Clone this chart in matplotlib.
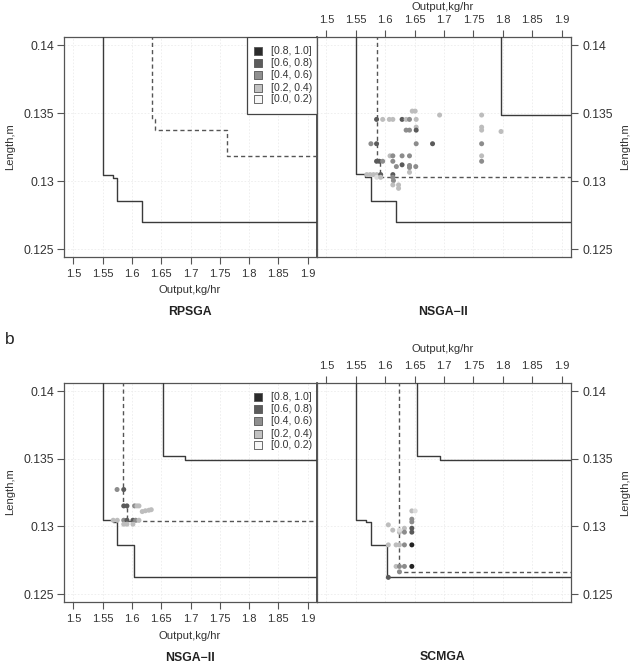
import matplotlib
matplotlib.use('Agg')
import matplotlib.pyplot as plt
from matplotlib.patches import Rectangle

plt.rcParams['font.family'] = ['Liberation Sans', 'DejaVu Sans']

W, H = 639, 663

# ---------------- data ----------------
x_ticks = [1.5, 1.55, 1.6, 1.65, 1.7, 1.75, 1.8, 1.85, 1.9]
x_tick_labels = ['1.5', '1.55', '1.6', '1.65', '1.7', '1.75', '1.8', '1.85', '1.9']
y_ticks = [0.125, 0.13, 0.135, 0.14]
y_tick_labels = ['0.125', '0.13', '0.135', '0.14']
x_lim = (1.484, 1.916)
y_lim = (0.12442, 0.1406)

legend_labels = ['[0.8, 1.0]', '[0.6, 0.8)', '[0.4, 0.6)', '[0.2, 0.4)', '[0.0, 0.2)']
legend_colors = ['#2b2b2b', '#5c5c5c', '#8f8f8f', '#c2c2c2', '#f7f7f7']
# point colour per category 0..4 (0 = lightest)
cat_colors = ['#dcdcdc', '#bdbdbd', '#8c8c8c', '#5a5a5a', '#222222']

panel_titles = ['RPSGA', 'NSGA\u2212II', 'NSGA\u2212II', 'SCMGA']

# Panel a-left (RPSGA)
a1_solid_x = [1.550, 1.568, 1.575, 1.618]
a1_solid_y = [0.13046, 0.13024, 0.12856, 0.12699]
a1_dash_x = [1.635, 1.639, 1.762]
a1_dash_y = [0.13459, 0.13373, 0.13188]

# Panel a-right (NSGA-II)
a2_solid_x = [1.550, 1.5655, 1.575, 1.618]
a2_solid_y = [0.13051, 0.13030, 0.12856, 0.12699]
a2_solid2_x = [1.797]
a2_solid2_y = [0.13484]
a2_dash_x = [1.5855, 1.592]
a2_dash_y = [0.13146, 0.13028]
a2_pts_x = [1.646, 1.651, 1.6925, 1.764,
            1.5853, 1.5957, 1.607, 1.613, 1.6287, 1.6356, 1.6413, 1.6527,
            1.6527, 1.764, 1.797,
            1.6356, 1.6413, 1.6527, 1.764,
            1.5757, 1.5853, 1.6527, 1.6805, 1.764,
            1.6082, 1.613, 1.6287, 1.6413, 1.764,
            1.5853, 1.5900, 1.5957, 1.613, 1.764,
            1.619, 1.6287, 1.6413, 1.6413, 1.652,
            1.6413,
            1.5687, 1.5743, 1.5800, 1.5857, 1.5923, 1.613,
            1.5857, 1.5923, 1.613,
            1.6140,
            1.613, 1.6227, 1.6227]
a2_pts_y = [0.13515, 0.13515, 0.13486, 0.13486,
            0.13454, 0.13454, 0.13454, 0.13454, 0.13454, 0.13454, 0.13454, 0.13454,
            0.13397, 0.13397, 0.13365,
            0.13375, 0.13375, 0.13375, 0.13375,
            0.13275, 0.13275, 0.13275, 0.13275, 0.13275,
            0.13186, 0.13186, 0.13186, 0.13186, 0.13186,
            0.13146, 0.13146, 0.13146, 0.13146, 0.13146,
            0.13107, 0.13120, 0.13115, 0.13100, 0.13107,
            0.13065,
            0.13048, 0.13048, 0.13048, 0.13048, 0.13048, 0.13048,
            0.13028, 0.13028, 0.13028,
            0.13004,
            0.12972, 0.12972, 0.12947]
a2_pts_c = [1, 1, 1, 1,
            3, 1, 1, 1, 3, 1, 2, 1,
            1, 1, 1,
            2, 2, 3, 1,
            2, 3, 2, 3, 2,
            1, 2, 2, 2, 1,
            3, 3, 2, 2, 2,
            2, 3, 2, 2, 2,
            1,
            1, 1, 1, 1, 3, 3,
            0, 1, 2,
            2,
            1, 1, 1]

# Panel b-left (NSGA-II)
b1_solid_x = [1.550, 1.568, 1.575, 1.6034]
b1_solid_y = [0.13049, 0.13030, 0.12862, 0.12624]
b1_solid2_x = [1.6525, 1.6905]
b1_solid2_y = [0.13521, 0.13491]
b1_dash_x = [1.5847, 1.591]
b1_dash_y = [0.13152, 0.13037]
b1_pts_x = [1.5746, 1.586,
            1.586, 1.5915, 1.6045, 1.6085, 1.612,
            1.6176, 1.623, 1.629, 1.633,
            1.568, 1.575, 1.586, 1.5915, 1.6017, 1.6063, 1.612,
            1.586, 1.5915, 1.6017]
b1_pts_y = [0.13273, 0.13273,
            0.13152, 0.13152, 0.13152, 0.13152, 0.13152,
            0.13110, 0.13116, 0.13120, 0.13124,
            0.13046, 0.13046, 0.13046, 0.13046, 0.13046, 0.13046, 0.13046,
            0.13017, 0.13017, 0.13017]
b1_pts_c = [2, 3,
            3, 3, 2, 1, 1,
            1, 1, 1, 1,
            1, 1, 2, 3, 3, 2, 1,
            1, 1, 1]

# Panel b-right (SCMGA)
b2_solid_x = [1.550, 1.567, 1.5752, 1.6036]
b2_solid_y = [0.13049, 0.13030, 0.12862, 0.12624]
b2_solid2_x = [1.6538, 1.6925]
b2_solid2_y = [0.13521, 0.13491]
b2_dash_x = [1.6242]
b2_dash_y = [0.12665]
b2_pts_x = [1.6453, 1.651,
            1.6453, 1.6453,
            1.6053, 1.6128,
            1.6242, 1.6242, 1.6327, 1.6327,
            1.6453, 1.6453,
            1.6053, 1.6185, 1.6242, 1.6327, 1.6453,
            1.6185, 1.6242, 1.6327, 1.6453,
            1.6242, 1.6053]
b2_pts_y = [0.13115, 0.13115,
            0.13054, 0.13034,
            0.13012, 0.12973,
            0.12958, 0.12973, 0.12987, 0.12958,
            0.12987, 0.12958,
            0.12864, 0.12864, 0.12864, 0.12864, 0.12864,
            0.12705, 0.12705, 0.12705, 0.12705,
            0.12665, 0.12624]
b2_pts_c = [1, 0,
            2, 2,
            1, 1,
            1, 0, 1, 2,
            3, 3,
            1, 1, 1, 2, 4,
            1, 2, 2, 4,
            2, 3]

# ---------------- drawing ----------------
fig = plt.figure(figsize=(W / 100, H / 100), dpi=100)


def make_ax(l, t, r, b):
    return fig.add_axes([l / W, 1 - b / H, (r - l) / W, (b - t) / H])


TOP, RIGHT = 0.2, 3.0


def attainment(ax, fx, fy, **kw):
    xs, ys = [fx[0]], [TOP]
    n = len(fx)
    for i in range(n):
        xs.append(fx[i]); ys.append(fy[i])
        xs.append(fx[i + 1] if i + 1 < n else RIGHT); ys.append(fy[i])
    ax.plot(xs, ys, **kw)


solid_kw = dict(color='#3a3a3a', lw=1.0, zorder=3)
dash_kw = dict(color='#555555', lw=1.0, ls=(0, (3, 2.2)), zorder=3)


def style(ax, right_side):
    ax.set_xlim(*x_lim)
    ax.set_ylim(*y_lim)
    ax.set_xticks(x_ticks)
    ax.set_xticklabels(x_tick_labels)
    ax.set_yticks(y_ticks)
    ax.set_yticklabels(y_tick_labels)
    for s in ax.spines.values():
        s.set_color('#555555')
        s.set_linewidth(0.9)
    ax.grid(True, color='#ececec', lw=0.6, ls=(0, (2, 2)), zorder=0)
    ax.set_axisbelow(True)
    if right_side:
        ax.tick_params(axis='x', bottom=False, labelbottom=False, top=True, labeltop=True,
                       length=5, width=0.8, color='#555555', labelcolor='#333333',
                       labelsize=8.0, pad=3.5)
        ax.tick_params(axis='y', left=False, labelleft=False, right=True, labelright=True,
                       length=5, width=0.8, color='#555555', labelcolor='#333333',
                       labelsize=8.8, pad=3.0)
    else:
        ax.tick_params(axis='x', direction='out', length=5, width=0.8, color='#555555',
                       labelcolor='#333333', labelsize=8.0, pad=3.5)
        ax.tick_params(axis='y', direction='out', length=5, width=0.8, color='#555555',
                       labelcolor='#333333', labelsize=8.8, pad=2.0)


def draw_points(ax, xs, ys, cs):
    ax.scatter(xs, ys, s=13, c=[cat_colors[c] for c in cs], edgecolors='none', zorder=4)


def draw_legend(ax, boxed):
    if boxed:
        ax.add_patch(Rectangle((0.723, 0.65), 0.277, 0.35, transform=ax.transAxes,
                               facecolor='white', edgecolor='#444444', lw=0.9, zorder=5))
    ys = [0.937, 0.882, 0.826, 0.769, 0.716]
    for yy, lab, col in zip(ys, legend_labels, legend_colors):
        ax.scatter([0.767], [yy], marker='s', s=28, facecolor=col, edgecolor='#555555',
                   linewidths=0.6, transform=ax.transAxes, zorder=6, clip_on=False)
        ax.text(0.818, yy, lab, transform=ax.transAxes, fontsize=7.6, color='#333333',
                va='center', ha='left', zorder=6)


axA1 = make_ax(64, 37, 317, 257)
axA2 = make_ax(317, 37, 571, 257)
axB1 = make_ax(64, 383, 317, 602)
axB2 = make_ax(317, 383, 571, 602)

style(axA1, False)
style(axA2, True)
style(axB1, False)
style(axB2, True)

# a-left
attainment(axA1, a1_solid_x, a1_solid_y, **solid_kw)
attainment(axA1, a1_dash_x, a1_dash_y, **dash_kw)
draw_legend(axA1, True)

# a-right
attainment(axA2, a2_solid_x, a2_solid_y, **solid_kw)
attainment(axA2, a2_solid2_x, a2_solid2_y, **solid_kw)
attainment(axA2, a2_dash_x, a2_dash_y, **dash_kw)
draw_points(axA2, a2_pts_x, a2_pts_y, a2_pts_c)

# b-left
attainment(axB1, b1_solid_x, b1_solid_y, **solid_kw)
attainment(axB1, b1_solid2_x, b1_solid2_y, **solid_kw)
attainment(axB1, b1_dash_x, b1_dash_y, **dash_kw)
draw_points(axB1, b1_pts_x, b1_pts_y, b1_pts_c)
draw_legend(axB1, False)

# b-right
attainment(axB2, b2_solid_x, b2_solid_y, **solid_kw)
attainment(axB2, b2_solid2_x, b2_solid2_y, **solid_kw)
attainment(axB2, b2_dash_x, b2_dash_y, **dash_kw)
draw_points(axB2, b2_pts_x, b2_pts_y, b2_pts_c)

# darker shared border in the middle
for ax in (axA1, axB1):
    ax.spines['right'].set_color('#222222')
    ax.spines['right'].set_linewidth(1.1)


def ftext(x, y, s, **kw):
    fig.text(x / W, 1 - y / H, s, **kw)


lab_kw = dict(fontsize=8.1, color='#333333', ha='center', va='center')
ftext(190, 290, 'Output,kg/hr', **lab_kw)
ftext(443, 7, 'Output,kg/hr', **lab_kw)
ftext(190, 636, 'Output,kg/hr', **lab_kw)
ftext(443, 349, 'Output,kg/hr', **lab_kw)
ftext(10, 147, 'Length,m', rotation=90, **lab_kw)
ftext(625, 147, 'Length,m', rotation=90, **lab_kw)
ftext(10, 492, 'Length,m', rotation=90, **lab_kw)
ftext(625, 493, 'Length,m', rotation=90, **lab_kw)

tit_kw = dict(fontsize=8.8, fontweight='bold', color='#222222', ha='center', va='center')
ftext(190, 312, panel_titles[0], **tit_kw)
ftext(443, 312, panel_titles[1], **tit_kw)
ftext(190, 658, panel_titles[2], **tit_kw)
ftext(443, 657, panel_titles[3], **tit_kw)

ftext(10, 339, 'b', fontsize=12.5, color='#222222', ha='center', va='center')

fig.savefig('out.png', dpi=100, facecolor='white')
